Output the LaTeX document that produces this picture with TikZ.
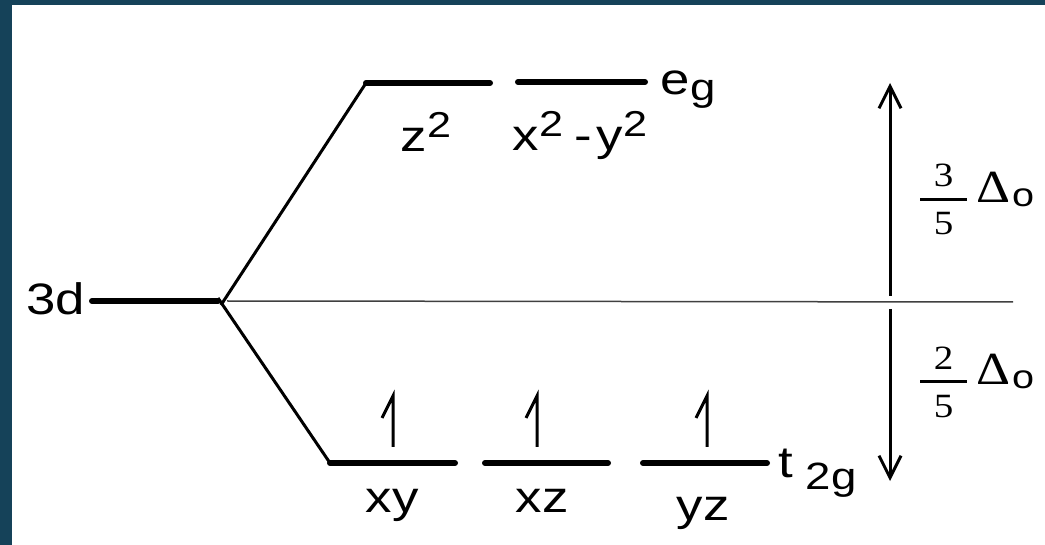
\documentclass[tikz,border=0pt]{standalone}
\usepackage{fontspec}
\setmainfont[FakeStretch=1.2]{Liberation Sans}
\newfontfamily\serifvn[FakeStretch=1.15]{Liberation Serif}
\usetikzlibrary{arrows.meta, positioning}
\definecolor{vienxanh}{RGB}{21,66,89}
\newcommand{\tren}[1]{\raisebox{14pt}{\fontsize{36}{38}\selectfont #1}}
\newcommand{\duoi}[1]{\raisebox{-12pt}{\fontsize{38}{40}\selectfont #1}}
\newcommand{\phanso}[1]{{\serifvn\fontsize{34}{34}\selectfont
    \makebox[0pt][l]{\raisebox{16pt}{\makebox[47pt]{#1}}}%
    \makebox[0pt][l]{\raisebox{-32pt}{\makebox[47pt]{5}}}%
    \raisebox{2pt}{\rule{47pt}{2.5pt}}}%
    \hspace{9pt}{\serifvn\fontsize{46}{48}\selectfont Δ}%
    \hspace{2pt}\raisebox{-4pt}{\fontsize{33}{34}\selectfont o}}

\begin{document}
\begin{tikzpicture}[x=1pt, y=-1pt, >={Straight Barb[length=22pt, width=22pt]},
    muc/.style={line width=6pt, line cap=round},
    nhanh/.style={line width=3pt},
    nhan/.style={inner sep=0pt, font=\fontsize{44}{48}\selectfont}]
    % Khung nền
    \fill[vienxanh] (0,0) rectangle (1045,545);
    \fill[white] (12,5) rectangle (1045,545);
    \useasboundingbox (0,0) rectangle (1045,545);

    % Mức 3d và điểm tách
    \node[nhan, anchor=base east] (d) at (85,315) {3d};
    \coordinate (tach) at (218,301);
    \draw[muc] ([xshift=7pt]d.east |- tach) -- (tach);
    \coordinate (giua) at (1013,302);
    \draw[gray!50!black, line width=1.5pt] ([xshift=9pt]tach) -- (giua);

    % Mức e_g
    \coordinate (z1) at (366,83);  \coordinate (z2) at (490,83);
    \coordinate (x1) at (518,82);  \coordinate (x2) at (645,82);
    \draw[nhanh] ([xshift=3pt, yshift=-4pt]tach) -- (z1);
    \draw[muc] (z1) -- (z2);
    \draw[muc] (x1) -- (x2);
    \node[nhan, anchor=base] (lz) at (426,152) {z\tren{2}};
    \node[nhan, anchor=base] (lx) at (580,151) {x\tren{2}\hspace{11pt}-\hspace{5pt}y\tren{2}};
    \node[nhan, anchor=base west] (eg) at (660,95) {e\hspace{1pt}\raisebox{-6pt}{\fontsize{38}{40}\selectfont g}};

    % Mức t_2g
    \coordinate (a1) at (330,463); \coordinate (a2) at (455,463);
    \coordinate (b1) at (485,463); \coordinate (b2) at (608,463);
    \coordinate (c1) at (643,463); \coordinate (c2) at (767,463);
    \draw[nhanh] ([yshift=3pt]tach) -- (a1);
    \draw[muc] (a1) -- (a2);
    \draw[muc] (b1) -- (b2);
    \draw[muc] (c1) -- (c2);
    \node[nhan, anchor=base] (lxy) at (392,512) {xy};
    \node[nhan, anchor=base] (lxz) at (542,512) {xz};
    \node[nhan, anchor=base] (lyz) at (703,520) {yz};
    \node[nhan, anchor=base west] (tg) at (778,478) {t\hspace{13pt}\duoi{2g}};

    % Electron
    \foreach \x in {393,537,707}
        \draw[line width=3pt] (\x,447) -- (\x,396) -- (\x-11,418);

    % Mũi tên năng lượng
    \coordinate (g1) at (890,296); \coordinate (mT) at (890,83);
    \coordinate (g2) at (890,309); \coordinate (mB) at (890,481);
    \draw[->, line width=3pt] (g1) -- (mT);
    \draw[->, line width=3pt] (g2) -- (mB);
    \node[nhan, anchor=base west] (f1) at (920,203) {\phanso{3}};
    \node[nhan, anchor=base west] (f2) at (920,385) {\phanso{2}};
\end{tikzpicture}
\end{document}
